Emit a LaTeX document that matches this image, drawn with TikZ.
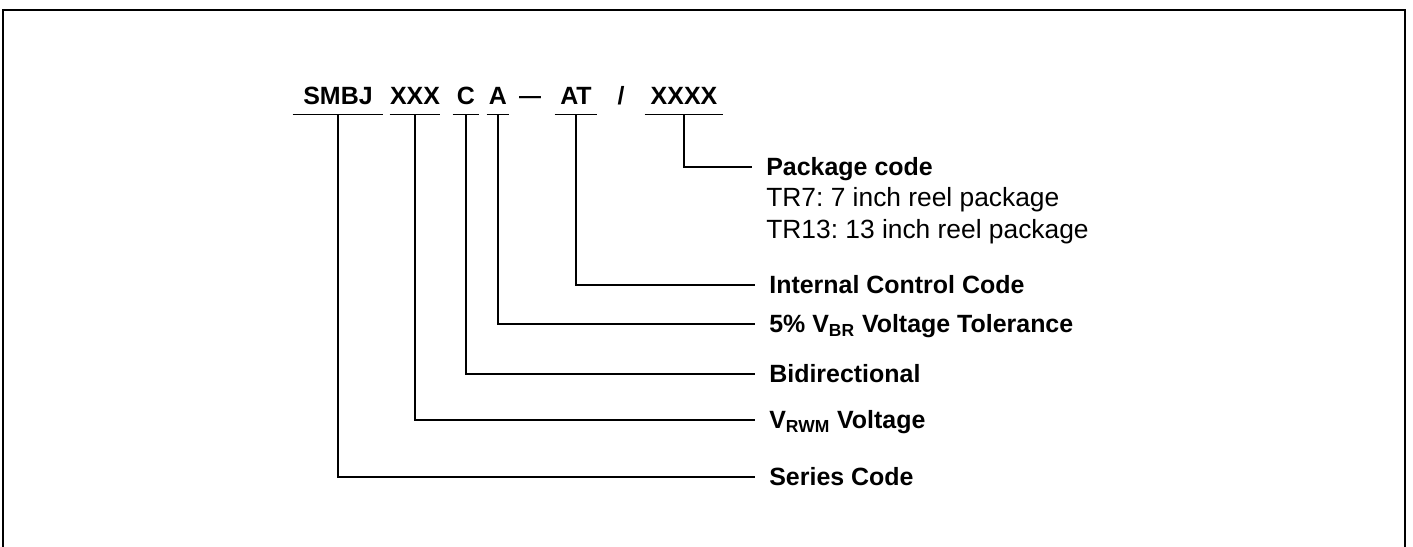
\documentclass[tikz,border=0pt]{standalone}
\usepackage{fontspec}
\setmainfont{Liberation Sans}
\frenchspacing
\usetikzlibrary{positioning}
\begin{document}
\begin{tikzpicture}[x=0.02cm,y=-0.02cm,
  code/.style={font=\bfseries\fontsize{14.2}{17}\selectfont,anchor=base,
    inner xsep=0pt,inner ysep=0.18cm,text depth=0pt},
  lbl/.style={font=\bfseries\fontsize{14.2}{17}\selectfont,anchor=west,
    inner xsep=0.28cm,inner ysep=0pt,text height=0.357cm,text depth=0pt},
  sub/.style={font=\fontsize{15}{18}\selectfont,anchor=base west,inner xsep=0.28cm},
  link/.style={draw=black,line width=0.8pt},
  frame/.style={draw=black,line width=1.5pt}]
\useasboundingbox (0,0) rectangle (1413,547);
\draw[frame] (3,560) -- (3,10) -- (1405,10) -- (1405,560);
% part number
\node[code,minimum width=1.8cm] (smbj) at (338,105) {SMBJ};
\node[code,minimum width=0.92cm] (xxx) at (415,105) {XXX};
\node[code,minimum width=0.52cm] (c) at (466,105) {C};
\node[code,minimum width=0.44cm] (a) at (498,105) {A};
\node[code,font=\bfseries\fontsize{12.5}{14}\selectfont,inner ysep=0pt] (hyphen) at (530,104) {—};
\node[code,minimum width=0.84cm] (at) at (576,105) {AT};
\node[code,inner ysep=0pt] (slash) at (621,105) {/};
\node[code,minimum width=1.56cm] (xxxx) at (684,105) {XXXX};
\foreach \p in {smbj,xxx,c,a,at,xxxx}
  \draw[link] (\p.south west) -- (\p.south east);
% meanings
\node[lbl] (package) at (752,167) {Package code};
\node[sub] (tr7) at (752,207) {TR7: 7 inch reel package};
\node[sub] (tr13) at (752,238) {TR13: 13 inch reel package};
\node[lbl] (control) at (755,285) {Internal Control Code};
\node[lbl] (vbr) at (755,324) {5\% V\textsubscript{BR} Voltage Tolerance};
\node[lbl] (bidir) at (755,374) {Bidirectional};
\node[lbl] (vrwm) at (755,420) {V\textsubscript{RWM} Voltage};
\node[lbl] (series) at (755,477) {Series Code};
\draw[link] (xxxx.south) |- (package.west);
\draw[link] (at.south) |- (control.west);
\draw[link] (a.south) |- (vbr.west);
\draw[link] (c.south) |- (bidir.west);
\draw[link] (xxx.south) |- (vrwm.west);
\draw[link] (smbj.south) |- (series.west);
\end{tikzpicture}
\end{document}
